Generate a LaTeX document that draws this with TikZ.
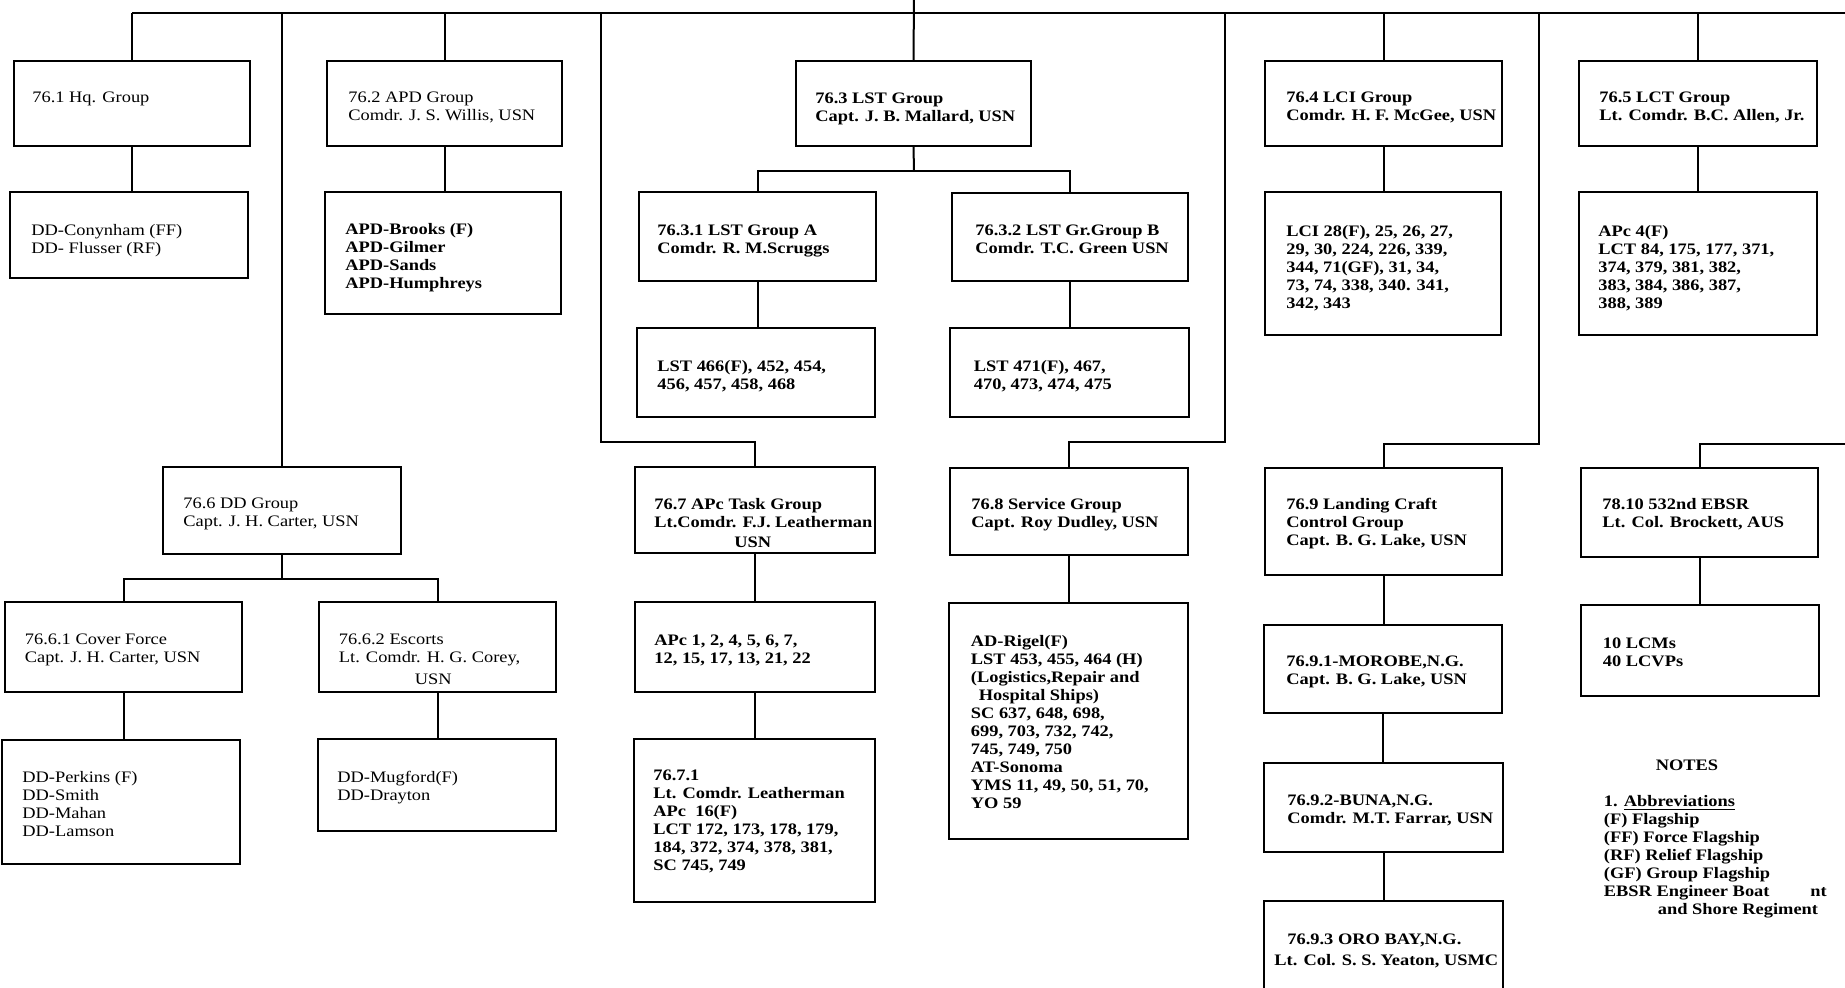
\documentclass[tikz,border=0pt]{standalone}
\usepackage{fontspec}
\setmainfont{Liberation Serif}[FakeStretch=1.15]
\usetikzlibrary{fit}
\newcommand\chartfont{\fontsize{8}{9}\selectfont}
\begin{document}
\begin{tikzpicture}[x=0.5pt,y=-0.5pt,
  box/.style={draw, line width=1.1pt, inner sep=0pt, fit={#1}},
  wire/.style={line width=1pt},
  txt/.style={anchor=north west, inner sep=0pt, align=left, font=\chartfont},
  txtb/.style={txt, font=\chartfont\bfseries}]
\useasboundingbox (0,0) rectangle (1845,987);
\fill[white] (0,0) rectangle (1845,987);
\clip (0,0) rectangle (1845,987);

% ---- boxes, first row and their units
\node[box={(14,61) (250,146)}] (b761) {};
\node[box={(10,192) (248,278)}] (bdd) {};
\node[box={(327,61) (562,146)}] (b762) {};
\node[box={(325,192) (561,314)}] (bapd) {};
\node[box={(796,61) (1031,146)}] (b763) {};
\node[box={(639,192) (876,281)}] (b7631) {};
\node[box={(952,193) (1188,281)}] (b7632) {};
\node[box={(637,328) (875,417)}] (blst1) {};
\node[box={(950,328) (1189,417)}] (blst2) {};
\node[box={(1265,61) (1502,146)}] (b764) {};
\node[box={(1265,192) (1501,335)}] (blci) {};
\node[box={(1579,61) (1817,146)}] (b765) {};
\node[box={(1579,192) (1817,335)}] (bapc4) {};

% ---- boxes, second row and their units
\node[box={(163,467) (401,554)}] (b766) {};
\node[box={(5,602) (242,692)}] (b7661) {};
\node[box={(319,602) (556,692)}] (b7662) {};
\node[box={(2,740) (240,864)}] (bperk) {};
\node[box={(318,739) (556,831)}] (bmug) {};
\node[box={(635,467) (875,553)}] (b767) {};
\node[box={(635,602) (875,692)}] (bapc1) {};
\node[box={(634,739) (875,902)}] (b7671) {};
\node[box={(950,468) (1188,555)}] (b768) {};
\node[box={(949,603) (1188,839)}] (brigel) {};
\node[box={(1265,468) (1502,575)}] (b769) {};
\node[box={(1264,625) (1502,713)}] (b7691) {};
\node[box={(1264,763) (1503,852)}] (b7692) {};
\node[box={(1264,901) (1503,1010)}] (b7693) {};
\node[box={(1581,468) (1818,557)}] (b7610) {};
\node[box={(1581,605) (1819,696)}] (blcm) {};

% ---- texts
\node[txt] (t761) at (32,91) {76.1 Hq. Group};
\node[txt] (tdd) at (31,224) {DD-Conynham (FF)\\DD- Flusser (RF)};
\node[txt] (t762) at (348,91) {76.2 APD Group\\Comdr. J. S. Willis, USN};
\node[txtb] (tapd) at (345,223) {APD-Brooks (F)\\APD-Gilmer\\APD-Sands\\APD-Humphreys};
\node[txtb] (t763) at (815,92) {76.3 LST Group\\Capt. J. B. Mallard, USN};
\node[txtb] (t7631) at (657,224) {76.3.1 LST Group A\\Comdr. R. M.Scruggs};
\node[txtb] (t7632) at (975,224) {76.3.2 LST Gr.Group B\\Comdr. T.C. Green USN};
\node[txtb] (tlst1) at (657,359.5) {LST 466(F), 452, 454,\\456, 457, 458, 468};
\node[txtb] (tlst2) at (973.5,359.5) {LST 471(F), 467,\\470, 473, 474, 475};
\node[txtb] (t764) at (1286,91) {76.4 LCI Group\\Comdr. H. F. McGee, USN};
\node[txtb] (tlci) at (1286,224.5) {LCI 28(F), 25, 26, 27,\\29, 30, 224, 226, 339,\\344, 71(GF), 31, 34,\\73, 74, 338, 340. 341,\\342, 343};
\node[txtb] (t765) at (1599,91) {76.5 LCT Group\\Lt. Comdr. B.C. Allen, Jr.};
\node[txtb] (tapc4) at (1598,224.5) {APc 4(F)\\LCT 84, 175, 177, 371,\\374, 379, 381, 382,\\383, 384, 386, 387,\\388, 389};
\node[txt] (t766) at (183,497) {76.6 DD Group\\Capt. J. H. Carter, USN};
\node[txt] (t7661) at (24.5,633) {76.6.1 Cover Force\\Capt. J. H. Carter, USN};
\node[txt] (t7662) at (338.5,633) {76.6.2 Escorts\\Lt. Comdr. H. G. Corey,\\[2pt]\hspace*{38pt}USN};
\node[txt] (tperk) at (22,770.5) {DD-Perkins (F)\\DD-Smith\\DD-Mahan\\DD-Lamson};
\node[txt] (tmug) at (337,770.5) {DD-Mugford(F)\\DD-Drayton};
\node[txtb] (t767) at (654,498) {76.7 APc Task Group\\Lt.Comdr. F.J. Leatherman\\[1pt]\hspace*{40pt}USN};
\node[txtb] (tapc1) at (654,634.5) {APc 1, 2, 4, 5, 6, 7,\\12, 15, 17, 13, 21, 22};
\node[txtb] (t7671) at (653,769.5) {76.7.1\\Lt. Comdr. Leatherman\\APc\ \ 16(F)\\LCT 172, 173, 178, 179,\\184, 372, 374, 378, 381,\\SC 745, 749};
\node[txtb] (t768) at (971,498) {76.8 Service Group\\Capt. Roy Dudley, USN};
\node[txtb] (trigel) at (970.5,634.5) {AD-Rigel(F)\\LST 453, 455, 464 (H)\\(Logistics,Repair and\\\hspace*{4pt}Hospital Ships)\\SC 637, 648, 698,\\699, 703, 732, 742,\\745, 749, 750\\AT-Sonoma\\YMS 11, 49, 50, 51, 70,\\YO 59};
\node[txtb] (t769) at (1286,498) {76.9 Landing Craft\\Control Group\\Capt. B. G. Lake, USN};
\node[txtb] (t7691) at (1286,655) {76.9.1-MOROBE,N.G.\\Capt. B. G. Lake, USN};
\node[txtb] (t7692) at (1287,794) {76.9.2-BUNA,N.G.\\Comdr. M.T. Farrar, USN};
\node[txtb] (t7693) at (1274,933) {\hspace*{6.5pt}76.9.3 ORO BAY,N.G.\\[1.5pt]Lt. Col. S. S. Yeaton, USMC};
\node[txtb] (t7610) at (1602,498) {78.10 532nd EBSR\\Lt. Col. Brockett, AUS};
\node[txtb] (tlcm) at (1602.5,637) {10 LCMs\\40 LCVPs};
\node[txtb, anchor=center] (tnotes) at (1687,765) {NOTES};
\node[txtb] (tabbr) at (1603.5,795) {1. \underline{Abbreviations}\\(F) Flagship\\(FF) Force Flagship\\(RF) Relief Flagship\\(GF) Group Flagship\\EBSR Engineer Boat\\\hspace*{27pt}and Shore Regiment};
\node[txtb] (tnt) at (1810,887) {nt};

% ---- main bus and drops
\coordinate (topin) at (914,-5);
\coordinate (busL) at (132,13);
\coordinate (busR) at (1850,13);
\draw[wire] (topin) -- (b763.north);
\draw[wire] (busL) -- (busR);
\foreach \b in {b761,b762,b764,b765,b766}
  \draw[wire] (\b.north |- busL) -- (\b.north);

\coordinate (d7) at (601,13);  \coordinate (e7) at (601,442);
\coordinate (d8) at (1225,13); \coordinate (e8) at (1225,442);
\coordinate (d9) at (1539,13); \coordinate (e9) at (1539,444);
\coordinate (e10) at (1850,444);
\draw[wire] (d7) -- (e7) -| (b767.north);
\draw[wire] (d8) -- (e8) -| (b768.north);
\draw[wire] (d9) -- (e9) -| (b769.north);
\draw[wire] (e10) -| (b7610.north);

% ---- parent to child links
\foreach \p/\c in {b761/bdd, b762/bapd, b764/blci, b765/bapc4, b7631/blst1,
    b7632/blst2, b767/bapc1, bapc1/b7671, b768/brigel, b769/b7691,
    b7691/b7692, b7692/b7693, b7610/blcm, b7661/bperk, b7662/bmug}
  \draw[wire] (\p.south) -- (\p.south |- \c.north);

% ---- two-way splits
\coordinate (s3) at (914,171);
\draw[wire] (b763.south) -- (s3);
\draw[wire] (b7631.north) |- (s3) -| (b7632.north);
\coordinate (s6) at (282,579);
\draw[wire] (b766.south) -- (s6);
\draw[wire] (b7661.north) |- (s6) -| (b7662.north);
\end{tikzpicture}
\end{document}
